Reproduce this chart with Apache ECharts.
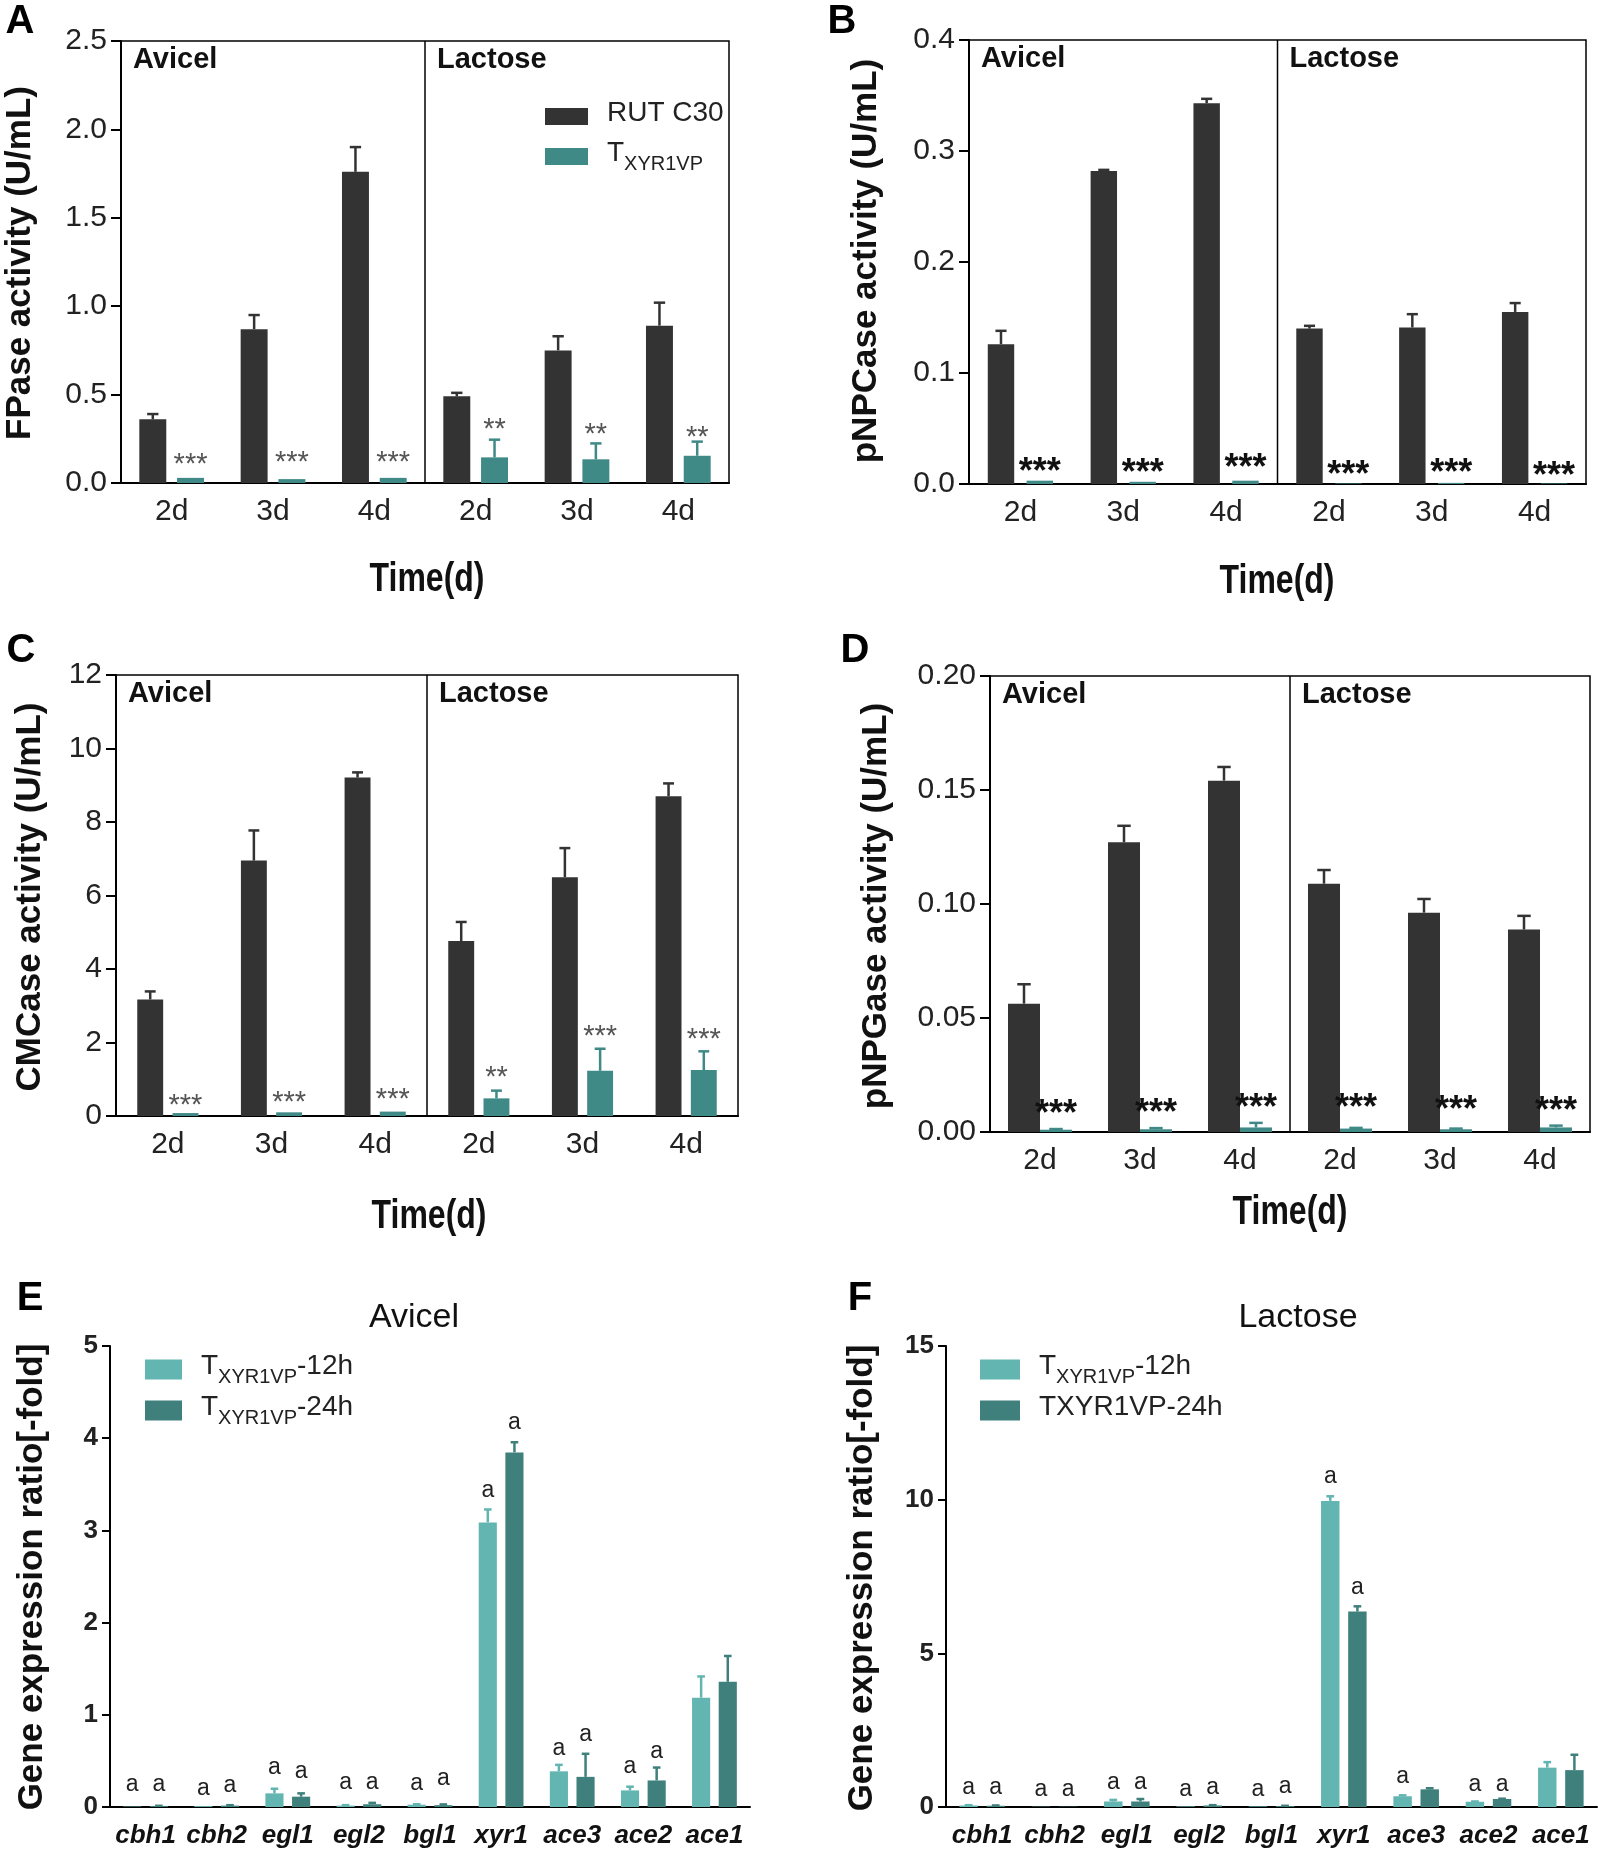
<!DOCTYPE html>
<html><head><meta charset="utf-8">
<script src="https://cdn.jsdelivr.net/npm/echarts@6/dist/echarts.min.js"></script>
<style>html,body{margin:0;padding:0;background:#fff}#c{width:1598px;height:1858px}</style>
</head><body><div id="c"></div>
<script>
// ---------- DATA ----------
const timeCats = ['2d', '3d', '4d', '2d', '3d', '4d'];
const geneCats = ['cbh1', 'cbh2', 'egl1', 'egl2', 'bgl1', 'xyr1', 'ace3', 'ace2', 'ace1'];

// A: FPase
const fpaseRut = [0.36, 0.87, 1.76, 0.49, 0.75, 0.89];
const fpaseRutErr = [0.03, 0.08, 0.14, 0.02, 0.08, 0.13];
const fpaseTx = [0.029, 0.022, 0.029, 0.145, 0.134, 0.154];
const fpaseTxErr = [0, 0, 0, 0.10, 0.09, 0.08];
const fpaseSig = ['***', '***', '***', '**', '**', '**'];
const fpaseSigY = [0.14, 0.15, 0.15, 0.337, 0.31, 0.293];

// B: pNPCase
const pnpcRut = [0.126, 0.282, 0.343, 0.140, 0.141, 0.155];
const pnpcRutErr = [0.012, 0.001, 0.004, 0.0025, 0.012, 0.008];
const pnpcTx = [0.003, 0.002, 0.003, 0.0005, 0.001, 0.0005];
const pnpcTxErr = [0, 0, 0, 0, 0, 0];
const pnpcSig = ['***', '***', '***', '***', '***', '***'];
const pnpcSigY = [0.0173, 0.0165, 0.0208, 0.0141, 0.0158, 0.013];

// C: CMCase
const cmcRut = [3.17, 6.95, 9.21, 4.76, 6.50, 8.70];
const cmcRutErr = [0.22, 0.82, 0.14, 0.52, 0.79, 0.35];
const cmcTx = [0.08, 0.10, 0.12, 0.48, 1.23, 1.25];
const cmcTxErr = [0, 0, 0, 0.21, 0.60, 0.51];
const cmcSig = ['***', '***', '***', '**', '***', '***'];
const cmcSigY = [0.44, 0.54, 0.60, 1.20, 2.32, 2.24];

// D: pNPGase
const pnpgRut = [0.0563, 0.1271, 0.1541, 0.1089, 0.0962, 0.0888];
const pnpgRutErr = [0.0085, 0.0072, 0.006, 0.006, 0.006, 0.006];
const pnpgTx = [0.001, 0.0012, 0.002, 0.0015, 0.0012, 0.002];
const pnpgTxErr = [0.0003, 0.0005, 0.002, 0.0003, 0.0003, 0.0008];
const pnpgSig = ['***', '***', '***', '***', '***', '***'];
const pnpgSigY = [0.011, 0.0115, 0.0136, 0.0136, 0.0127, 0.0122];

// E: Avicel gene expression
const avi12 = [0.005, 0.01, 0.148, 0.015, 0.025, 3.087, 0.387, 0.18, 1.186];
const avi12Err = [0, 0, 0.05, 0.005, 0.005, 0.14, 0.07, 0.04, 0.23];
const avi24 = [0.01, 0.015, 0.112, 0.03, 0.02, 3.846, 0.327, 0.288, 1.358];
const avi24Err = [0.003, 0.005, 0.036, 0.015, 0.008, 0.11, 0.25, 0.14, 0.28];
const avi12Sig = ['a', 'a', 'a', 'a', 'a', 'a', 'a', 'a', ''];
const avi12SigY = [0.22, 0.18, 0.40, 0.24, 0.23, 3.41, 0.61, 0.42, null];
const avi24Sig = ['a', 'a', 'a', 'a', 'a', 'a', 'a', 'a', ''];
const avi24SigY = [0.22, 0.21, 0.36, 0.24, 0.29, 4.15, 0.76, 0.58, null];

// F: Lactose gene expression
const lac12 = [0.05, 0.01, 0.18, 0.02, 0.02, 9.96, 0.35, 0.17, 1.28];
const lac12Err = [0.01, 0, 0.05, 0, 0, 0.15, 0.03, 0.01, 0.18];
const lac24 = [0.04, 0.01, 0.18, 0.05, 0.03, 6.36, 0.575, 0.26, 1.20];
const lac24Err = [0.01, 0, 0.08, 0.01, 0.01, 0.17, 0.035, 0.01, 0.5];
const lac12Sig = ['a', 'a', 'a', 'a', 'a', 'a', 'a', 'a', ''];
const lac12SigY = [0.56, 0.50, 0.72, 0.50, 0.50, 10.69, 0.91, 0.65, null];
const lac24Sig = ['a', 'a', 'a', 'a', 'a', 'a', '', 'a', ''];
const lac24SigY = [0.56, 0.50, 0.72, 0.56, 0.59, 7.07, null, 0.65, null];

// ---------- STYLE ----------
const SANS = '"Liberation Sans", Arial, sans-serif';
const NARROW = '"Liberation Sans Narrow", "Liberation Sans", Arial, sans-serif';
const DARK = '#333333', TEAL = '#3f8a86', LIGHT = '#63b5b2', DTEAL = '#3f807c';
const INK = '#222';

const actPanels = [
  { letter: 'A', letterPos: [20, 22], grid: { left: 121, top: 41, width: 608, height: 442 }, max: 2.5, interval: 0.5, dec: 1,
    rut: fpaseRut, rutErr: fpaseRutErr, tx: fpaseTx, txErr: fpaseTxErr, sig: fpaseSig, sigY: fpaseSigY,
    sigStyle: { color: '#555', size: 29, weight: 'normal' }, barPct: 0.266, gap: 0.40,
    yname: 'FPase activity (U/mL)', ynamePos: [20, 263], timePos: [427, 580] },
  { letter: 'B', letterPos: [842, 22], grid: { left: 969, top: 40, width: 617, height: 444 }, max: 0.4, interval: 0.1, dec: 1,
    rut: pnpcRut, rutErr: pnpcRutErr, tx: pnpcTx, txErr: pnpcTxErr, sig: pnpcSig, sigY: pnpcSigY,
    sigStyle: { color: '#111', size: 36, weight: 'bold' }, barPct: 0.257, gap: 0.47,
    yname: 'pNPCase activity (U/mL)', ynamePos: [866, 261], timePos: [1277, 582] },
  { letter: 'C', letterPos: [21, 651], grid: { left: 116, top: 675, width: 622, height: 441 }, max: 12, interval: 2, dec: 0,
    rut: cmcRut, rutErr: cmcRutErr, tx: cmcTx, txErr: cmcTxErr, sig: cmcSig, sigY: cmcSigY,
    sigStyle: { color: '#555', size: 29, weight: 'normal' }, barPct: 0.25, gap: 0.36,
    yname: 'CMCase activity (U/mL)', ynamePos: [30, 897], timePos: [429, 1217] },
  { letter: 'D', letterPos: [855, 651], grid: { left: 990, top: 676, width: 600, height: 456 }, max: 0.20, interval: 0.05, dec: 2,
    rut: pnpgRut, rutErr: pnpgRutErr, tx: pnpgTx, txErr: pnpgTxErr, sig: pnpgSig, sigY: pnpgSigY,
    sigStyle: { color: '#111', size: 36, weight: 'bold' }, barPct: 0.32, gap: 0.0,
    yname: 'pNPGase activity (U/mL)', ynamePos: [876, 906], timePos: [1290, 1213] }
];

const genePanels = [
  { letter: 'E', letterPos: [30, 1299], grid: { left: 110, top: 1346, width: 640, height: 461 }, max: 5, interval: 1,
    title: 'Avicel', titlePos: [414, 1318], s12: avi12, s12Err: avi12Err, s24: avi24, s24Err: avi24Err,
    sig12: avi12Sig, sig12Y: avi12SigY, sig24: avi24Sig, sig24Y: avi24SigY, ynamePos: [32, 1577] },
  { letter: 'F', letterPos: [860, 1299], grid: { left: 946, top: 1346, width: 651, height: 461 }, max: 15, interval: 5,
    title: 'Lactose', titlePos: [1298, 1318], s12: lac12, s12Err: lac12Err, s24: lac24, s24Err: lac24Err,
    sig12: lac12Sig, sig12Y: lac12SigY, sig24: lac24Sig, sig24Y: lac24SigY, ynamePos: [862, 1578] }
];

// ---------- HELPERS ----------
function errSeries(gi, vals, errs, side, color, barPct, gap, labels, labelYs, ls) {
  return {
    type: 'custom', xAxisIndex: gi, yAxisIndex: gi, z: 5, silent: true, clip: false,
    data: vals.map((v, i) => [i, v]),
    renderItem(params, api) {
      const i = params.dataIndex;
      const v = vals[i], e = errs[i];
      const c = api.coord([i, 0]);
      const bw = api.size([1, 0])[0] * barPct;
      const x = c[0] + side * (bw + bw * gap) / 2;
      const children = [];
      if (e > 0) {
        const y1 = api.coord([i, v])[1], y2 = api.coord([i, v + e])[1];
        const cw = bw * 0.42;
        children.push({ type: 'line', shape: { x1: x, y1: y1, x2: x, y2: y2 }, style: { stroke: color, lineWidth: 2.5 } });
        children.push({ type: 'line', shape: { x1: x - cw / 2, y1: y2, x2: x + cw / 2, y2: y2 }, style: { stroke: color, lineWidth: 2.5 } });
      }
      if (labels && labels[i] && labelYs[i] != null) {
        const ly = api.coord([i, labelYs[i]])[1] + ls.dy;
        children.push({ type: 'text', x: x, y: ly, style: {
          text: labels[i], fill: ls.color, fontSize: ls.size, fontFamily: ls.family || SANS, fontWeight: ls.weight || 'normal',
          textAlign: 'center', textVerticalAlign: 'middle', align: 'center', verticalAlign: 'middle' } });
      }
      return { type: 'group', children };
    }
  };
}

function sepSeries(gi, ymax) {
  return {
    type: 'custom', xAxisIndex: gi, yAxisIndex: gi, z: 4, silent: true,
    data: [[2, 0]],
    renderItem(params, api) {
      const a = api.coord([2, ymax]), b = api.coord([3, 0]);
      const x = (a[0] + b[0]) / 2;
      return { type: 'line', shape: { x1: x, y1: a[1], x2: x, y2: b[1] }, style: { stroke: '#000', lineWidth: 1.5 } };
    }
  };
}

function txt(text, x, y, o) {
  return { type: 'text', x, y, rotation: o.rot || 0, scaleX: o.sx || 1, z: 10, silent: true, style: {
    text, fill: o.color || INK, fontSize: o.size, fontWeight: o.weight || 'normal', fontFamily: o.family || SANS,
    fontStyle: o.style || 'normal',
    textAlign: o.align || 'center', textVerticalAlign: 'middle', align: o.align || 'center', verticalAlign: 'middle' } };
}

// ---------- OPTION ----------
const grids = [], xAxes = [], yAxes = [], series = [], graphics = [];
const axisLineStyle = { color: '#000', width: 2 };

actPanels.forEach((p, gi) => {
  grids.push(Object.assign({ show: true, borderColor: '#000', borderWidth: 1.5 }, p.grid));
  xAxes.push({ gridIndex: gi, type: 'category', data: timeCats,
    axisLine: { lineStyle: axisLineStyle },
    axisTick: { alignWithLabel: true, length: 8, lineStyle: { color: '#000', width: 2 } },
    axisLabel: { interval: 0, fontFamily: NARROW, fontSize: 30, color: INK, margin: 14 } });
  yAxes.push({ gridIndex: gi, type: 'value', min: 0, max: p.max, interval: p.interval,
    axisLine: { show: true, lineStyle: axisLineStyle },
    axisTick: { show: true, length: 10, lineStyle: { color: '#000', width: 2 } },
    splitLine: { show: false },
    axisLabel: { formatter: v => v.toFixed(p.dec), fontFamily: NARROW, fontSize: 30, color: INK, margin: 14 } });
  const bw = (p.barPct * 100).toFixed(1) + '%', bg = (p.gap * 100).toFixed(0) + '%';
  series.push({ type: 'bar', name: 'RUT C30', xAxisIndex: gi, yAxisIndex: gi, data: p.rut, barWidth: bw, barGap: bg,
    itemStyle: { color: DARK }, silent: true });
  series.push({ type: 'bar', name: 'TXYR1VP', xAxisIndex: gi, yAxisIndex: gi, data: p.tx, barWidth: bw, barGap: bg,
    itemStyle: { color: TEAL }, silent: true });
  series.push(errSeries(gi, p.rut, p.rutErr, -1, DARK, p.barPct, p.gap));
  series.push(errSeries(gi, p.tx, p.txErr, 1, TEAL, p.barPct, p.gap, p.sig, p.sigY,
    Object.assign({ dy: p.sigStyle.size * 0.22 }, p.sigStyle)));
  series.push(sepSeries(gi, p.max));

  graphics.push(txt(p.letter, p.letterPos[0], p.letterPos[1], { size: 40, weight: 'bold', color: '#000' }));
  graphics.push(txt(p.yname, p.ynamePos[0], p.ynamePos[1], { size: 35, weight: 'bold', color: '#111', rot: Math.PI / 2 }));
  graphics.push(txt('Time(d)', p.timePos[0], p.timePos[1], { size: 40, weight: 'bold', color: '#111', family: SANS, sx: 0.8 }));
  const g = p.grid;
  graphics.push(txt('Avicel', g.left + 12, g.top + 19, { size: 29, weight: 'bold', color: '#111', align: 'left' }));
  graphics.push(txt('Lactose', g.left + g.width / 2 + 12, g.top + 19, { size: 29, weight: 'bold', color: '#111', align: 'left' }));
});

genePanels.forEach((p, k) => {
  const gi = actPanels.length + k;
  grids.push(Object.assign({ show: false }, p.grid));
  xAxes.push({ gridIndex: gi, type: 'category', data: geneCats,
    axisLine: { lineStyle: axisLineStyle },
    axisTick: { alignWithLabel: true, length: 9, lineStyle: { color: '#000', width: 2 } },
    axisLabel: { interval: 0, fontFamily: NARROW, fontSize: 26, fontStyle: 'italic', fontWeight: 'bold', color: '#111', margin: 16 } });
  yAxes.push({ gridIndex: gi, type: 'value', min: 0, max: p.max, interval: p.interval,
    axisLine: { show: true, lineStyle: axisLineStyle },
    axisTick: { show: true, length: 8, lineStyle: { color: '#000', width: 2 } },
    splitLine: { show: false },
    axisLabel: { fontFamily: NARROW, fontSize: 26, fontWeight: 'bold', color: INK, margin: 12 } });
  const barPct = 0.255, gap = 0.47;
  series.push({ type: 'bar', name: 'TXYR1VP-12h', xAxisIndex: gi, yAxisIndex: gi, data: p.s12, barWidth: '25.5%', barGap: '47%',
    itemStyle: { color: LIGHT }, silent: true });
  series.push({ type: 'bar', name: 'TXYR1VP-24h', xAxisIndex: gi, yAxisIndex: gi, data: p.s24, barWidth: '25.5%', barGap: '47%',
    itemStyle: { color: DTEAL }, silent: true });
  const aStyle = { color: INK, size: 23, weight: 'normal', family: NARROW, dy: -2 };
  series.push(errSeries(gi, p.s12, p.s12Err, -1, LIGHT, barPct, gap, p.sig12, p.sig12Y, aStyle));
  series.push(errSeries(gi, p.s24, p.s24Err, 1, DTEAL, barPct, gap, p.sig24, p.sig24Y, aStyle));

  graphics.push(txt(p.letter, p.letterPos[0], p.letterPos[1], { size: 40, weight: 'bold', color: '#000' }));
  graphics.push(txt('Gene expression ratio[-fold]', p.ynamePos[0], p.ynamePos[1], { size: 35, weight: 'bold', color: '#111', rot: Math.PI / 2 }));
  graphics.push(txt(p.title, p.titlePos[0], p.titlePos[1], { size: 34, color: '#111' }));
});

const richBase = {
  n: { fontSize: 28, fontFamily: SANS, color: INK, padding: [0, 0, 7, 0], verticalAlign: 'bottom' },
  t: { fontSize: 28, fontFamily: SANS, color: INK, padding: [0, 0, 7, 0], verticalAlign: 'bottom' },
  s: { fontSize: 20, fontFamily: SANS, color: INK, verticalAlign: 'bottom' }
};

const legends = [
  { data: ['RUT C30', 'TXYR1VP'], orient: 'vertical', left: 540, top: 94, itemWidth: 43, itemHeight: 17, itemGap: 12,
    icon: 'rect', selectedMode: false,
    formatter: n => n === 'RUT C30' ? '{n|RUT C30}' : '{t|T}{s|XYR1VP}',
    textStyle: { rich: richBase, padding: [0, 0, 0, 14] } },
  { data: ['TXYR1VP-12h', 'TXYR1VP-24h'], orient: 'vertical', left: 140, top: 1347, itemWidth: 37, itemHeight: 20, itemGap: 6,
    icon: 'rect', selectedMode: false,
    formatter: n => '{t|T}{s|XYR1VP}{n|' + (n.endsWith('12h') ? '-12h' : '-24h') + '}',
    textStyle: { rich: richBase, padding: [0, 0, 0, 14] } },
  { data: ['TXYR1VP-12h', 'TXYR1VP-24h'], orient: 'vertical', left: 975, top: 1347, itemWidth: 40, itemHeight: 20, itemGap: 6,
    icon: 'rect', selectedMode: false,
    formatter: n => n.endsWith('12h') ? '{t|T}{s|XYR1VP}{n|-12h}' : '{n|TXYR1VP-24h}',
    textStyle: { rich: richBase, padding: [0, 0, 0, 14] } }
];

const chart = echarts.init(document.getElementById('c'), null, { renderer: 'canvas' });
chart.setOption({
  backgroundColor: '#fff',
  animation: false,
  grid: grids, xAxis: xAxes, yAxis: yAxes, series: series,
  legend: legends,
  graphic: { elements: graphics }
});
</script></body></html>
